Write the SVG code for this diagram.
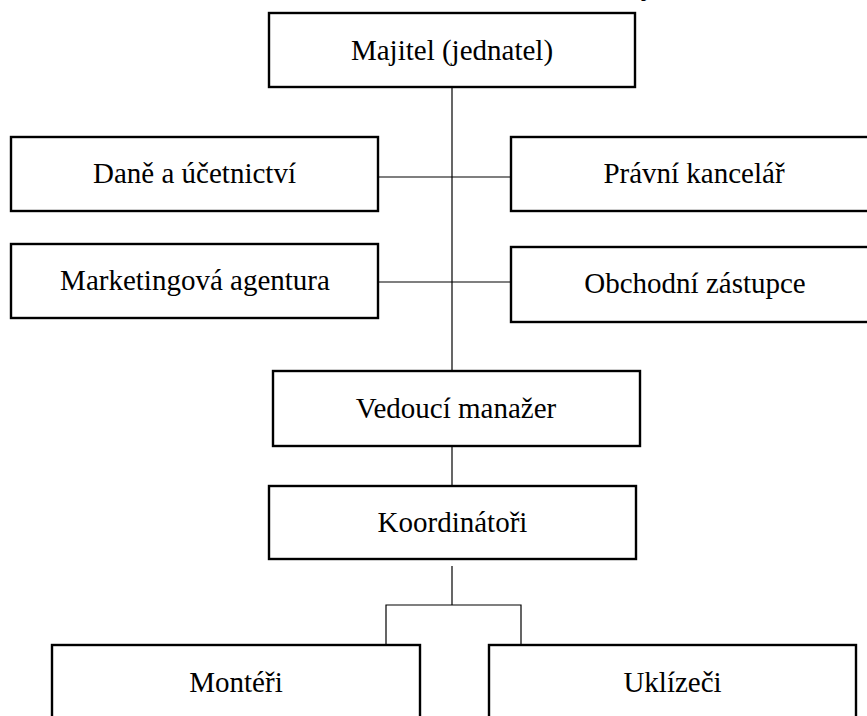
<svg xmlns="http://www.w3.org/2000/svg" width="867" height="716" viewBox="0 0 867 716">
<style>
.box{fill:#fff;stroke:#000;stroke-width:2.4}
.lbl{font-family:"Liberation Serif","Times New Roman",serif;font-size:29px;fill:#000;text-anchor:middle}
.conn{stroke:#000;stroke-width:1.2;fill:none}
</style>
<rect x="0" y="0" width="867" height="716" fill="#fff"/>
<text class="lbl" x="648" y="-5">y</text>
<g id="connectors">
<line class="conn" x1="452" y1="87" x2="452" y2="371"/>
<line class="conn" x1="378" y1="177" x2="511" y2="177"/>
<line class="conn" x1="378" y1="282" x2="511" y2="282"/>
<line class="conn" x1="452" y1="446" x2="452" y2="486"/>
<line class="conn" x1="452" y1="566" x2="452" y2="605"/>
<polyline class="conn" points="386,645 386,605 521,605 521,645"/>
</g>
<g id="majitel"><rect class="box" x="269" y="13" width="366" height="74"/><text class="lbl" x="452" y="60">Majitel (jednatel)</text></g>
<g id="dane"><rect class="box" x="11" y="137" width="367" height="74"/><text class="lbl" x="194.5" y="183">Daně a účetnictví</text></g>
<g id="marketing"><rect class="box" x="11" y="244" width="367" height="74"/><text class="lbl" x="195" y="290">Marketingová agentura</text></g>
<g id="pravni"><rect class="box" x="511" y="137" width="366" height="74"/><text class="lbl" x="694" y="183">Právní kancelář</text></g>
<g id="obchodni"><rect class="box" x="511" y="247" width="366" height="75"/><text class="lbl" x="695" y="293">Obchodní zástupce</text></g>
<g id="vedouci"><rect class="box" x="273" y="371" width="367" height="75"/><text class="lbl" x="456" y="418">Vedoucí manažer</text></g>
<g id="koordinatori"><rect class="box" x="269" y="486" width="367" height="73"/><text class="lbl" x="452.5" y="532">Koordinátoři</text></g>
<g id="monteri"><rect class="box" x="52" y="645" width="368" height="80"/><text class="lbl" x="236" y="692">Montéři</text></g>
<g id="uklizeci"><rect class="box" x="489" y="645" width="367" height="80"/><text class="lbl" x="672.5" y="692">Uklízeči</text></g>
</svg>
